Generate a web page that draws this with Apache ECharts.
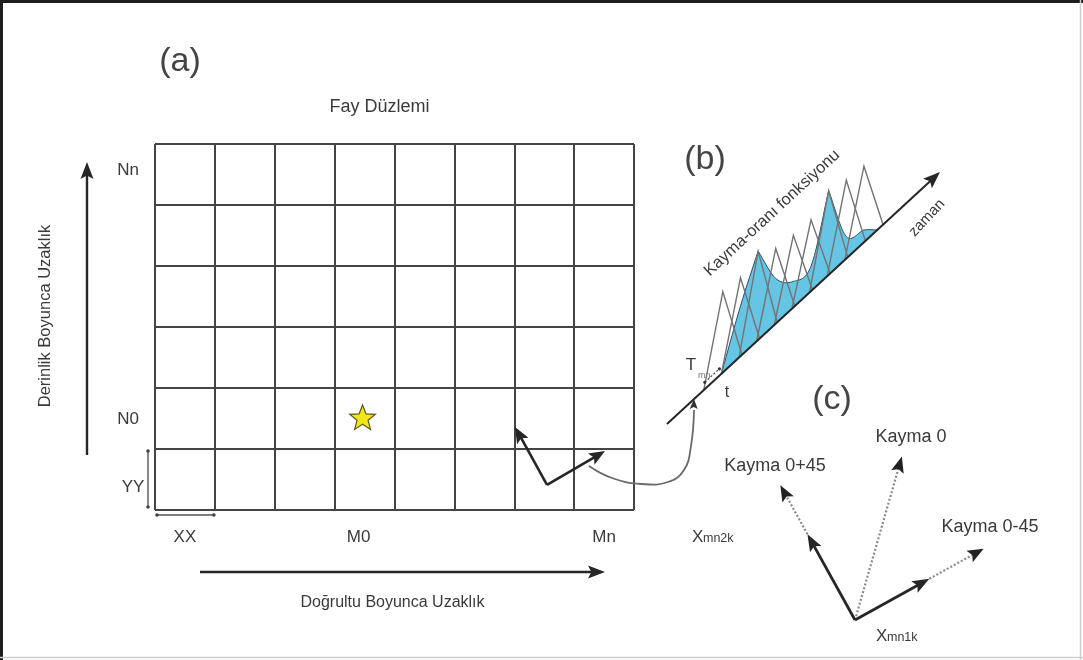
<!DOCTYPE html>
<html>
<head>
<meta charset="utf-8">
<title>Fay Düzlemi</title>
<script src="https://cdn.jsdelivr.net/npm/echarts@6/dist/echarts.min.js"></script>
<style>
  html, body { margin: 0; padding: 0; background: #ffffff; }
  #chart { width: 1083px; height: 660px; }
</style>
</head>
<body>
<div id="chart"></div>
<script>
// ---- Fault plane discretisation ----
const strikeCount = 8;            // subfaults along strike
const dipCount = 6;               // subfaults along dip
const hypocentre = [3, 1];        // subfault (strike, dip) index of the nucleation point
const strikeLabels = ['XX', 'M0', 'Mn'];
const dipLabels = ['YY', 'N0', 'Nn'];
const axisTitles = ['Doğrultu Boyunca Uzaklık', 'Derinlik Boyunca Uzaklık'];
const planeTitle = 'Fay Düzlemi';
const panelLabels = ['(a)', '(b)', '(c)'];

// ---- Multi-time-window slip-rate function ----
const windowAmplitude = [1.01, 0.98, 1.11, 0.94, 0.90, 0.89, 1.05, 0.98, 0.95];
const windowWeight    = [0.00, 0.64, 1.00, 0.60, 0.36, 0.35, 1.00, 0.28, 0.16];
const slipRateTexts = ['Kayma-oranı fonksiyonu', 'zaman', 'T', 'mn', 't'];

// ---- Rake directions (degrees, counter-clockwise from strike) ----
const rakeAngles = [74, 119, 29];
const rakeLabels = ['Kayma 0', 'Kayma 0+45', 'Kayma 0-45'];
const basisLabels = [['X', 'mn2k'], ['X', 'mn1k']];

// ---- drawing helpers ----
const FONT = "'Liberation Sans', Arial, Helvetica, sans-serif";
const INK = '#262626';
const TEXT = '#3a3a3a';

function label(x, y, text, size, extra) {
  extra = extra || {};
  return {
    type: 'text', x: x, y: y, rotation: extra.rot || 0,
    style: {
      text: text, fontSize: size, fontFamily: FONT, fill: extra.color || TEXT,
      align: extra.align || 'center', verticalAlign: extra.va || 'middle'
    }
  };
}
function seg(a, b, color, width, dash) {
  return {
    type: 'line', shape: { x1: a[0], y1: a[1], x2: b[0], y2: b[1] },
    style: { stroke: color, lineWidth: width, lineDash: dash || null, lineCap: 'butt' }
  };
}
function head(tip, d, len, half, color) {
  const n = [-d[1], d[0]];
  const b = [tip[0] - d[0] * len, tip[1] - d[1] * len];
  const notch = [tip[0] - d[0] * len * 0.8, tip[1] - d[1] * len * 0.8];
  return {
    type: 'polygon',
    shape: { points: [tip, [b[0] + n[0] * half, b[1] + n[1] * half], notch, [b[0] - n[0] * half, b[1] - n[1] * half]] },
    style: { fill: color }
  };
}
function arrow(from, to, o) {
  o = o || {};
  const dx = to[0] - from[0], dy = to[1] - from[1];
  const L = Math.hypot(dx, dy), d = [dx / L, dy / L];
  const len = o.head || 14, half = o.half || 6;
  const end = [to[0] - d[0] * len * 0.75, to[1] - d[1] * len * 0.75];
  return [seg(from, end, o.color || INK, o.width || 2, o.dash), head(to, d, len, half, o.headColor || INK)];
}
function star(c, R, r) {
  const pts = [];
  for (let i = 0; i < 10; i++) {
    const a = -Math.PI / 2 + i * Math.PI / 5;
    const rad = i % 2 ? r : R;
    pts.push([c[0] + rad * Math.cos(a), c[1] + rad * Math.sin(a)]);
  }
  return pts;
}
// Cubic path through nodes; nodes flagged sharp keep one-sided tangents (pointed peaks)
function curvePath(pts, sharp) {
  const n = pts.length;
  const tanIn = [], tanOut = [];
  for (let i = 0; i < n; i++) {
    const prev = pts[Math.max(i - 1, 0)], next = pts[Math.min(i + 1, n - 1)];
    if (sharp[i] || i === 0 || i === n - 1) {
      tanIn[i] = [pts[i][0] - prev[0], pts[i][1] - prev[1]];
      tanOut[i] = [next[0] - pts[i][0], next[1] - pts[i][1]];
    } else {
      const m = [(next[0] - prev[0]) / 2, (next[1] - prev[1]) / 2];
      tanIn[i] = m; tanOut[i] = m;
    }
  }
  let d = 'M' + pts[0][0] + ' ' + pts[0][1];
  for (let i = 0; i < n - 1; i++) {
    const c1 = [pts[i][0] + tanOut[i][0] / 3, pts[i][1] + tanOut[i][1] / 3];
    const c2 = [pts[i + 1][0] - tanIn[i + 1][0] / 3, pts[i + 1][1] - tanIn[i + 1][1] / 3];
    d += ' C' + c1[0] + ' ' + c1[1] + ' ' + c2[0] + ' ' + c2[1] + ' ' + pts[i + 1][0] + ' ' + pts[i + 1][1];
  }
  return d;
}

// ---- panel (a): fault plane annotations, drawn in fault-plane units ----
function renderFaultPlane(params, api) {
  const P = (x, y) => api.coord([x, y]);
  const o = P(0, 0), tr = P(strikeCount, dipCount);
  const left = o[0], bottom = o[1], right = tr[0], top = tr[1];
  const kids = [];

  // strike-direction cell labels
  const strikeCols = [0, hypocentre[0], strikeCount - 1];
  strikeLabels.forEach((t, i) => kids.push(label(P(strikeCols[i] + 0.5, 0)[0] - (i === 1 ? 6 : 0), bottom + 27, t, 17)));
  // dip-direction cell labels
  kids.push(label(left - 22, P(0, 0.5)[1] + 8, dipLabels[0], 17));
  kids.push(label(left - 27, P(0, hypocentre[1] + 0.5)[1] + 1, dipLabels[1], 17));
  kids.push(label(left - 27, P(0, dipCount - 0.5)[1] - 4, dipLabels[2], 17));

  // subfault size brackets
  const yb0 = P(0, 0)[1] - 3, yb1 = P(0, 1)[1] + 2;
  kids.push(seg([left - 7, yb0], [left - 7, yb1], '#555', 1.4));
  kids.push({ type: 'circle', shape: { cx: left - 7, cy: yb0, r: 1.8 }, style: { fill: '#444' } });
  kids.push({ type: 'circle', shape: { cx: left - 7, cy: yb1, r: 1.8 }, style: { fill: '#444' } });
  const xb1 = P(1, 0)[0] - 1;
  kids.push(seg([left + 1, bottom + 5], [xb1, bottom + 5], '#555', 1.4));
  kids.push({ type: 'circle', shape: { cx: left + 2, cy: bottom + 5, r: 1.8 }, style: { fill: '#444' } });
  kids.push({ type: 'circle', shape: { cx: xb1, cy: bottom + 5, r: 1.8 }, style: { fill: '#444' } });

  // distance arrows and their titles
  kids.push(...arrow([left - 68, bottom - 55], [left - 68, top + 18], { width: 2.4, head: 17, half: 6.5 }));
  kids.push(...arrow([left + 45, bottom + 62], [right - 29, bottom + 62], { width: 2.4, head: 17, half: 6.5 }));
  kids.push(label((left + right) / 2 - 2, bottom + 93, axisTitles[0], 16));
  kids.push(label(left - 110, (top + bottom) / 2 - 11, axisTitles[1], 16.5, { rot: Math.PI / 2 }));

  // titles
  kids.push(label((left + right) / 2 - 15, top - 37, planeTitle, 18));
  kids.push(label(left + 25, top - 82, panelLabels[0], 34, { color: '#444' }));

  // nucleation point
  const hc = P(hypocentre[0] + 0.5, hypocentre[1] + 0.5);
  kids.push({
    type: 'polygon', shape: { points: star([hc[0] - 2, hc[1]], 13.5, 5.8) },
    style: { fill: '#f1e61e', stroke: '#5d5a1c', lineWidth: 1.2 }
  });

  // slip vector components inside one subfault
  const v = P(6.547, 0.41);
  kids.push(...arrow(v, P(6.013, 1.361), { width: 2.6, head: 16, half: 6.5 }));
  kids.push(...arrow(v, P(7.516, 0.967), { width: 2.6, head: 16, half: 6.5 }));

  return { type: 'group', children: kids };
}

// ---- panels (b) and (c), drawn on a page-sized overlay ----
function renderOverlay(params, api) {
  const P = (x, y) => api.coord([x, y]);
  const kids = [];

  // frame around the figure
  kids.push(seg(P(0, 1.5), P(1083, 1.5), '#1e1e1e', 3));
  kids.push(seg(P(1.5, 0), P(1.5, 660), '#1e1e1e', 3));
  kids.push(seg(P(1080.5, 0), P(1080.5, 660), '#cfcfcf', 1.5));
  kids.push(seg(P(0, 657.5), P(1083, 657.5), '#cfcfcf', 1.5));

  // link from the subfault to its slip-rate function
  kids.push({
    type: 'polyline',
    shape: { points: [P(589, 466), P(612, 478), P(642, 484), P(668, 482), P(684, 470), P(691, 446), P(694, 410)], smooth: 0.45 },
    style: { stroke: '#6a6a6a', lineWidth: 1.8, fill: null }
  });
  kids.push(head(P(694, 399), [0.03, -1], 10, 4, '#333'));

  // ---- (b) slip-rate function along the time axis ----
  const A = P(667, 424), B = P(940, 172);
  const AL = Math.hypot(B[0] - A[0], B[1] - A[1]);
  const u = [(B[0] - A[0]) / AL, (B[1] - A[1]) / AL];
  const nrm = [-u[1], u[0]];
  const onAxis = (s, h) => [A[0] + u[0] * s, A[1] + u[1] * s - (h || 0)];
  const s0 = 76, ds = 24, half = 26, unitH = 80;
  const centres = windowAmplitude.map((_, k) => s0 + ds * k);

  // weighted slip-rate envelope (shaded)
  const first = windowWeight.findIndex(w => w > 0);
  const nodes = [onAxis(centres[first] - half, 0)];
  const sharp = [true];
  for (let k = first; k < centres.length; k++) {
    nodes.push(onAxis(centres[k], windowWeight[k] * windowAmplitude[k] * unitH));
    sharp.push(windowWeight[k] >= 1);
  }
  const sEnd = centres[centres.length - 1] + half - 8;
  nodes.push(onAxis(sEnd, 0));
  sharp.push(true);
  const start = nodes[0];
  const d = curvePath(nodes, sharp) + ' L' + start[0] + ' ' + start[1] + ' Z';
  kids.push({
    type: 'path', shape: { pathData: d },
    style: { fill: '#66c4e4', stroke: '#2d5266', lineWidth: 1 }
  });

  // individual triangular time windows
  centres.forEach((c, k) => {
    kids.push({
      type: 'polyline',
      shape: { points: [onAxis(c - half, 0), onAxis(c, windowAmplitude[k] * unitH), onAxis(c + half, 0)] },
      style: { stroke: '#737373', lineWidth: 1.4, fill: null, blend: 'multiply' }
    });
  });

  // time axis
  kids.push(...arrow(A, B, { width: 2, head: 17, half: 6.5 }));

  // window duration marker
  const t0 = onAxis(56, 0), t1 = onAxis(76, 0);
  const off = 5;
  const m0 = [t0[0] + nrm[0] * -off, t0[1] + nrm[1] * -off];
  const m1 = [t1[0] + nrm[0] * -off, t1[1] + nrm[1] * -off];
  kids.push(seg(m0, m1, '#444', 1.2, [2, 2]));
  kids.push({ type: 'circle', shape: { cx: m0[0], cy: m0[1], r: 1.6 }, style: { fill: '#333' } });
  kids.push({ type: 'circle', shape: { cx: m1[0], cy: m1[1], r: 1.6 }, style: { fill: '#333' } });

  const ang = Math.atan2(-u[1], u[0]);
  kids.push(label(P(772, 213)[0], P(772, 213)[1], slipRateTexts[0], 16.5, { rot: ang }));
  kids.push(label(P(927, 218)[0], P(927, 218)[1], slipRateTexts[1], 15, { rot: ang + 0.08 }));
  kids.push(label(P(691, 365)[0], P(691, 365)[1], slipRateTexts[2], 17));
  kids.push(label(P(698, 376)[0], P(698, 376)[1], slipRateTexts[3], 9, { align: 'left', color: '#777' }));
  kids.push(label(P(727, 393)[0], P(727, 393)[1], slipRateTexts[4], 16));
  kids.push(label(P(705, 160)[0], P(705, 160)[1], panelLabels[1], 34, { color: '#444' }));

  // ---- (c) rake directions ----
  const O = P(855, 620);
  const lengths = [170, 154, 147];
  const solidLen = [0, 98, 85];
  rakeAngles.forEach((deg, i) => {
    const r = deg * Math.PI / 180;
    const dir = [Math.cos(r), -Math.sin(r)];
    const tip = [O[0] + dir[0] * lengths[i], O[1] + dir[1] * lengths[i]];
    const mid = [O[0] + dir[0] * solidLen[i], O[1] + dir[1] * solidLen[i]];
    kids.push(...arrow(solidLen[i] ? mid : O, tip, { width: 2.2, color: '#8a8a8a', dash: [2, 2], head: 16, half: 6.5, headColor: '#222' }));
    if (solidLen[i]) kids.push(...arrow(O, mid, { width: 2.8, head: 17, half: 6.5 }));
  });
  kids.push(label(P(911, 437)[0], P(911, 437)[1], rakeLabels[0], 18));
  kids.push(label(P(775, 466)[0], P(775, 466)[1], rakeLabels[1], 18));
  kids.push(label(P(990, 527)[0], P(990, 527)[1], rakeLabels[2], 18));
  kids.push(label(P(832, 400)[0], P(832, 400)[1], panelLabels[2], 34, { color: '#444' }));

  // basis vector names
  const basisPos = [[692, 546], [876, 645]];
  basisLabels.forEach((b, i) => {
    const p = P(basisPos[i][0], basisPos[i][1]);
    kids.push(label(p[0], p[1], b[0], 17, { align: 'left', va: 'bottom' }));
    kids.push(label(p[0] + 11, p[1] - 1, b[1], 12.5, { align: 'left', va: 'bottom' }));
  });

  return { type: 'group', children: kids };
}

const chart = echarts.init(document.getElementById('chart'), null, { renderer: 'canvas' });
const hiddenAxis = { show: false };
chart.setOption({
  animation: false,
  backgroundColor: '#ffffff',
  grid: [
    { left: 155, top: 144, width: 479, height: 366 },
    { left: 0, top: 0, right: 0, bottom: 0 }
  ],
  xAxis: [
    {
      gridIndex: 0, type: 'value', min: 0, max: strikeCount, interval: 1,
      axisLine: { show: false }, axisTick: { show: false }, axisLabel: { show: false },
      splitLine: { show: true, lineStyle: { color: '#444', width: 2 } }
    },
    Object.assign({ gridIndex: 1, type: 'value', min: 0, max: 1083 }, hiddenAxis)
  ],
  yAxis: [
    {
      gridIndex: 0, type: 'value', min: 0, max: dipCount, interval: 1,
      axisLine: { show: false }, axisTick: { show: false }, axisLabel: { show: false },
      splitLine: { show: true, lineStyle: { color: '#444', width: 2 } }
    },
    Object.assign({ gridIndex: 1, type: 'value', min: 0, max: 660, inverse: true }, hiddenAxis)
  ],
  series: [
    {
      type: 'custom', xAxisIndex: 0, yAxisIndex: 0, clip: false, silent: true,
      data: [[0, 0]], renderItem: renderFaultPlane, z: 3
    },
    {
      type: 'custom', xAxisIndex: 1, yAxisIndex: 1, clip: false, silent: true,
      data: [[0, 0]], renderItem: renderOverlay, z: 2
    }
  ]
});
</script>
</body>
</html>
